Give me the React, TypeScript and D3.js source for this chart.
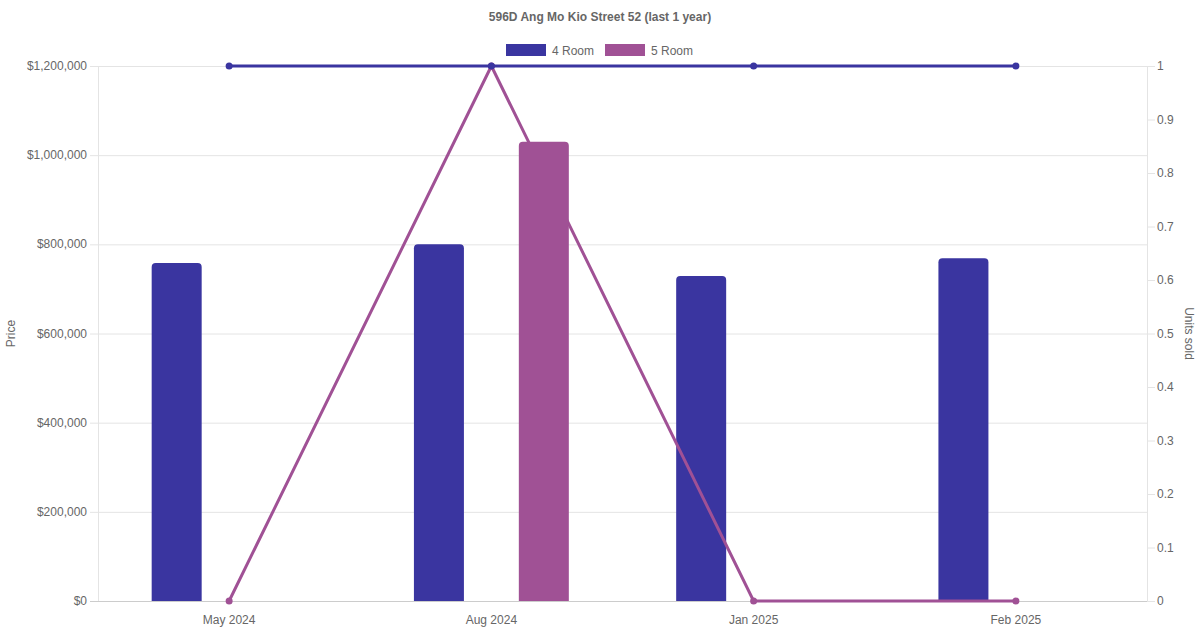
import React from 'react';
import * as d3 from 'd3';

// Chart data
const months = ['May 2024', 'Aug 2024', 'Jan 2025', 'Feb 2025'];
const price4Room: (number | null)[] = [758000, 800000, 729000, 769000];
const price5Room: (number | null)[] = [null, 1030000, null, null];
const units4Room = [1, 1, 1, 1];
const units5Room = [0, 1, 0, 0];
const priceTicks = [0, 200000, 400000, 600000, 800000, 1000000, 1200000];
const unitTicks = [0, 0.1, 0.2, 0.3, 0.4, 0.5, 0.6, 0.7, 0.8, 0.9, 1];

const series = [
  { name: '4 Room', color: '#3a35a0', prices: price4Room, units: units4Room },
  { name: '5 Room', color: '#a05195', prices: price5Room, units: units5Room },
];

const W = 1200;
const H = 630;
const margin = { top: 66, right: 53, bottom: 29, left: 98 };
const FONT = '"Liberation Sans", Arial, Helvetica, sans-serif';
const TEXT = '#666';

// rounded top corners only
function barPath(x: number, y: number, w: number, h: number, r: number) {
  const rr = Math.min(r, h / 2, w / 2);
  return `M${x},${y + h}V${y + rr}Q${x},${y} ${x + rr},${y}H${x + w - rr}Q${x + w},${y} ${x + w},${y + rr}V${y + h}Z`;
}

export default function App() {
  const x0 = margin.left;
  const x1 = W - margin.right;
  const y0 = H - margin.bottom;
  const y1 = margin.top;

  const x = d3.scaleBand<string>().domain(months).range([x0, x1]).padding(0);
  // 80% of each category is shared by the two series
  const inner = d3.scaleBand<string>().domain(series.map(s => s.name))
    .range([x.bandwidth() * 0.1, x.bandwidth() * 0.9]).padding(0);
  const yPrice = d3.scaleLinear().domain([0, 1200000]).range([y0, y1]);
  const yUnits = d3.scaleLinear().domain([0, 1]).range([y0, y1]);
  const fmt = (v: number) => '$' + d3.format(',')(v);

  const barW = 50;
  const cxOf = (i: number) => x(months[i])! + x.bandwidth() / 2;
  const line = (vals: number[]) => d3.line<number>()
    .x((_, i) => cxOf(i))
    .y(d => yUnits(d))(vals);

  const bars = (s: typeof series[number]) => s.prices.map((p, i) => {
    if (p == null) return null;
    const cx = x(months[i])! + inner(s.name)! + inner.bandwidth() / 2;
    const top = yPrice(p);
    return <path key={s.name + i} d={barPath(cx - barW / 2, top, barW, y0 - top, 4)} fill={s.color} />;
  });

  const lineMarks = (s: typeof series[number]) => (
    <g key={s.name + 'line'}>
      <path d={line(s.units) ?? ''} fill="none" stroke={s.color} strokeWidth={3} />
      {s.units.map((u, i) => (
        <circle key={i} cx={cxOf(i)} cy={yUnits(u)} r={3.5} fill={s.color} />
      ))}
    </g>
  );

  return (
    <svg width={W} height={H} style={{ position: 'absolute', left: 0, top: 0, background: '#fff' }}
      fontFamily={FONT}>
      {/* title */}
      <text x={W / 2} y={21} textAnchor="middle" fontSize={12} fontWeight="bold" fill={TEXT}>
        596D Ang Mo Kio Street 52 (last 1 year)
      </text>

      {/* legend */}
      {series.map((s, i) => {
        const lx = i === 0 ? 506 : 605;
        return (
          <g key={s.name}>
            <rect x={lx} y={44} width={40} height={12} fill={s.color} />
            <text x={lx + 46} y={54.5} fontSize={12} fill={TEXT}>{s.name}</text>
          </g>
        );
      })}

      {/* grid lines */}
      {priceTicks.map(t => (
        <g key={t}>
          <line x1={x0 - 8} x2={x1} y1={yPrice(t) + 0.5} y2={yPrice(t) + 0.5}
            stroke={t === 0 ? '#ccc' : '#e4e4e4'} />
          <text x={x0 - 11} y={yPrice(t) + 4} textAnchor="end" fontSize={12} fill={TEXT}>{fmt(t)}</text>
        </g>
      ))}
      <line x1={x0 + 0.5} x2={x0 + 0.5} y1={y1} y2={y0} stroke="#e4e4e4" />

      {/* right axis */}
      <line x1={x1 + 0.5} x2={x1 + 0.5} y1={y1} y2={y0} stroke="#e4e4e4" />
      {unitTicks.map(t => (
        <g key={t}>
          <line x1={x1} x2={x1 + 8} y1={yUnits(t) + 0.5} y2={yUnits(t) + 0.5} stroke="#e4e4e4" />
          <text x={x1 + 10} y={yUnits(t) + 4} fontSize={12} fill={TEXT}>{d3.format('~g')(t)}</text>
        </g>
      ))}

      {/* x axis labels */}
      {months.map(m => (
        <text key={m} x={x(m)! + x.bandwidth() / 2} y={624} textAnchor="middle" fontSize={12} fill={TEXT}>{m}</text>
      ))}

      {/* axis titles */}
      <text transform={`translate(15,${(y0 + y1) / 2}) rotate(-90)`} textAnchor="middle" fontSize={12} fill={TEXT}>Price</text>
      <text transform={`translate(1185,${(y0 + y1) / 2}) rotate(90)`} textAnchor="middle" fontSize={12} fill={TEXT}>Units sold</text>

      {/* draw order: 4 Room bars, 5 Room line, 4 Room line, 5 Room bars */}
      {bars(series[0])}
      {lineMarks(series[1])}
      {lineMarks(series[0])}
      {bars(series[1])}
    </svg>
  );
}
